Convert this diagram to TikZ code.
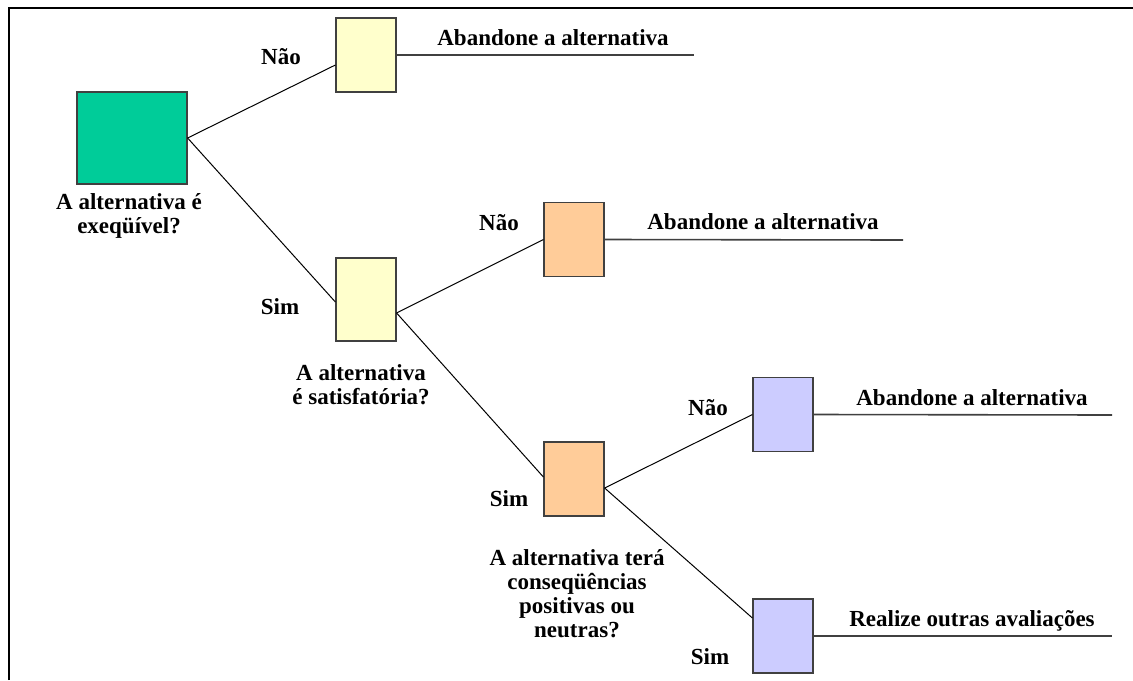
\documentclass[tikz,border=0pt]{standalone}
\usepackage{fontspec}
\setmainfont{Liberation Serif}
\usetikzlibrary{positioning}
\definecolor{verde}{RGB}{0,204,153}
\definecolor{amarelo}{RGB}{255,255,204}
\definecolor{laranja}{RGB}{255,204,153}
\definecolor{lilas}{RGB}{204,204,255}

\begin{document}
\begin{tikzpicture}[x=0.5pt, y=-0.5pt,
    every node/.style={font=\fontsize{11.5}{12}\selectfont\bfseries},
    caixa/.style={draw=black!75, line width=0.6pt, rectangle, inner sep=0pt, minimum width=30pt, minimum height=37pt},
    rotulo/.style={inner sep=0pt},
    pergunta/.style={inner sep=0pt, align=center},
    acao/.style={inner sep=0pt, anchor=base},
    ramo/.style={line width=0.5pt},
    saida/.style={line width=0.8pt, draw=black!75}]
            \useasboundingbox (0,0) rectangle (1133,680);
            \draw[line width=1pt] (9,680) -- (9,8) -- (1133,8);

            % decision boxes
            \node[caixa, fill=verde, minimum width=55pt, minimum height=46pt] (g) at (132,138) {};
            \node[caixa, fill=amarelo] (y1) at (366,55) {};
            \node[caixa, fill=amarelo, minimum height=41.5pt] (y2) at (366,299.5) {};
            \node[caixa, fill=laranja] (o1) at (574,239.5) {};
            \node[caixa, fill=laranja] (o2) at (574,479) {};
            \node[caixa, fill=lilas] (b1) at (783,414.5) {};
            \node[caixa, fill=lilas] (b2) at (783,636) {};

            % questions
            \node[pergunta] (qg) at (129,216) {A alternativa é\\exeqüível?};
            \node[pergunta] (qy) at (361,385) {A alternativa\\é satisfatória?};
            \node[pergunta] (qo) at (577,594) {A alternativa terá\\conseqüências\\positivas ou\\neutras?};

            % answers
            \node[rotulo] (n1) at (281,57) {Não};
            \node[rotulo] (s1) at (280,307) {Sim};
            \node[rotulo] (n2) at (499,223) {Não};
            \node[rotulo] (s2) at (509,499) {Sim};
            \node[rotulo] (n3) at (708,408) {Não};
            \node[rotulo] (s3) at (710,657) {Sim};

            % ends
            \coordinate (e1) at (694,55);
            \coordinate (e2) at (903,240);
            \coordinate (e3) at (1112,415);
            \coordinate (e4) at (1112,636);
            \node[acao] (a1) at (553,45) {Abandone a alternativa};
            \node[acao] (a2) at (763,229) {Abandone a alternativa};
            \node[acao] (a3) at (972,405) {Abandone a alternativa};
            \node[acao] (a4) at (972,626) {Realize outras avaliações};

            \path[ramo]
            (g.east) edge ([yshift=-5pt]y1.west)
            (g.east) edge ([yshift=-1.25pt]y2.west)
            ([yshift=-6.75pt]y2.east) edge (o1.west)
            ([yshift=-6.75pt]y2.east) edge ([yshift=1pt]o2.west)
            ([yshift=-4.5pt]o2.east) edge (b1.west)
            ([yshift=-4.5pt]o2.east) edge ([yshift=9pt]b2.west);

            \path[saida]
            (y1.east) edge (e1)
            (o1.east) edge (e2)
            (b1.east) edge (e3)
            (b2.east) edge (e4);
          \end{tikzpicture}
\end{document}
